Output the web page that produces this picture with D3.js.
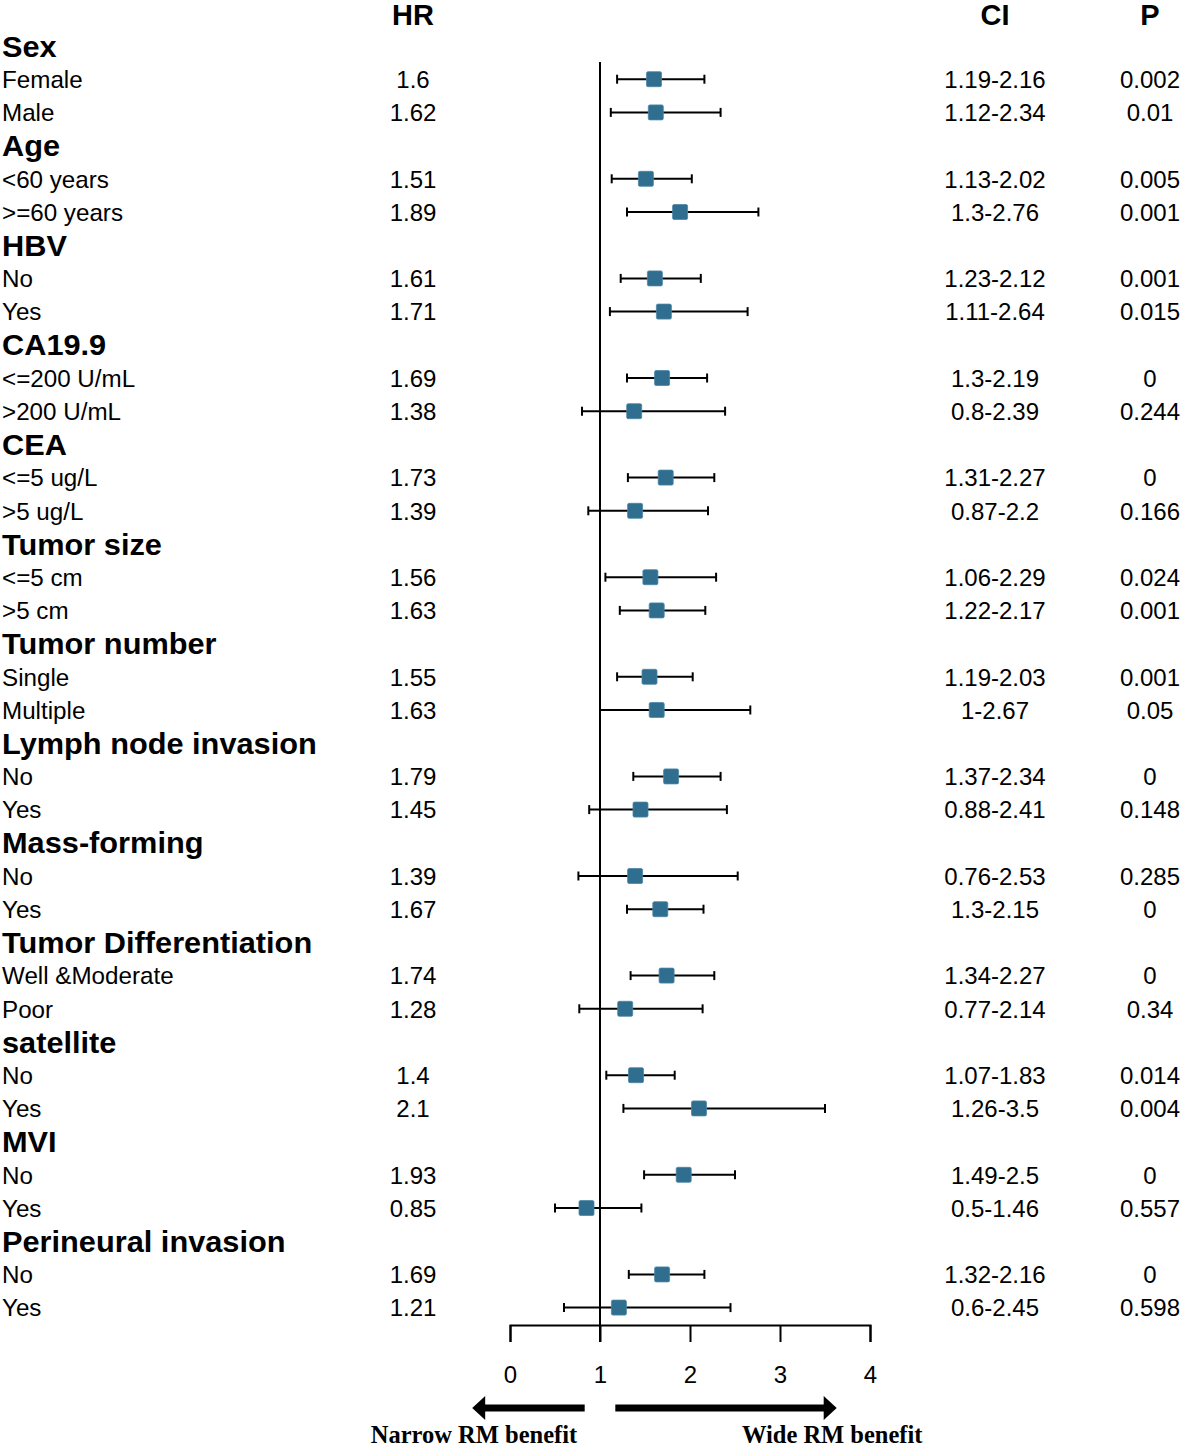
<!DOCTYPE html>
<html>
<head>
<meta charset="utf-8">
<script src="https://cdn.jsdelivr.net/npm/d3@7"></script>
<style>
  html, body { margin: 0; padding: 0; background: #fff; }
  svg { display: block; }
</style>
</head>
<body>
<svg id="chart" width="1181" height="1450"></svg>
<script>
// ---------- DATA ----------
const groupNames = ["Sex", "Age", "HBV", "CA19.9", "CEA", "Tumor size", "Tumor number",
  "Lymph node invasion", "Mass-forming", "Tumor Differentiation", "satellite", "MVI", "Perineural invasion"];
const subgroupLabels = [
  ["Female", "Male"], ["<60 years", ">=60 years"], ["No", "Yes"],
  ["<=200 U/mL", ">200 U/mL"], ["<=5 ug/L", ">5 ug/L"], ["<=5 cm", ">5 cm"],
  ["Single", "Multiple"], ["No", "Yes"], ["No", "Yes"], ["Well &Moderate", "Poor"],
  ["No", "Yes"], ["No", "Yes"], ["No", "Yes"]
];
const hrValues = [1.6, 1.62, 1.51, 1.89, 1.61, 1.71, 1.69, 1.38, 1.73, 1.39, 1.56, 1.63,
  1.55, 1.63, 1.79, 1.45, 1.39, 1.67, 1.74, 1.28, 1.4, 2.1, 1.93, 0.85, 1.69, 1.21];
const ciLower = [1.19, 1.12, 1.13, 1.3, 1.23, 1.11, 1.3, 0.8, 1.31, 0.87, 1.06, 1.22,
  1.19, 1, 1.37, 0.88, 0.76, 1.3, 1.34, 0.77, 1.07, 1.26, 1.49, 0.5, 1.32, 0.6];
const ciUpper = [2.16, 2.34, 2.02, 2.76, 2.12, 2.64, 2.19, 2.39, 2.27, 2.2, 2.29, 2.17,
  2.03, 2.67, 2.34, 2.41, 2.53, 2.15, 2.27, 2.14, 1.83, 3.5, 2.5, 1.46, 2.16, 2.45];
const pValues = [0.002, 0.01, 0.005, 0.001, 0.001, 0.015, 0, 0.244, 0, 0.166, 0.024, 0.001,
  0.001, 0.05, 0, 0.148, 0.285, 0, 0, 0.34, 0.014, 0.004, 0, 0.557, 0, 0.598];
const axisTicks = [0, 1, 2, 3, 4];
const columnHeaders = ["HR", "CI", "P"];
const directionLabels = ["Narrow RM benefit", "Wide RM benefit"];

// ---------- BUILD ROWS ----------
const rows = [];
let k = 0;
groupNames.forEach((g, gi) => {
  rows.push({ type: "header", label: g });
  subgroupLabels[gi].forEach(lbl => {
    rows.push({ type: "item", label: lbl, hr: hrValues[k], lo: ciLower[k], hi: ciUpper[k], p: pValues[k] });
    k++;
  });
});

// ---------- LAYOUT ----------
const svg = d3.select("#chart");
const FONT = "Arial, 'Liberation Sans', Helvetica, sans-serif";
const x = d3.scaleLinear().domain([0, 4]).range([510, 870]);
const y = d3.scaleLinear().domain([0, rows.length - 1]).range([46, 1307.6]);
const colHR = 413, colCI = 995, colP = 1150;
const markerColor = "#2f6e8e";

// column headers
svg.selectAll("text.colhead").data(columnHeaders).join("text")
  .attr("class", "colhead")
  .attr("x", (d, i) => [colHR, colCI, colP][i])
  .attr("y", 24.5)
  .attr("text-anchor", "middle")
  .attr("font-family", FONT).attr("font-weight", "bold").attr("font-size", 29)
  .attr("fill", "#000")
  .text(d => d);

// row labels
svg.selectAll("text.rowlabel").data(rows).join("text")
  .attr("class", "rowlabel")
  .attr("transform", (d, i) => d.type === "header"
    ? `translate(2,${y(i) + 10.5}) scale(1.06,1)`
    : `translate(2,${y(i) + 8.7})`)
  .attr("font-family", FONT)
  .attr("font-weight", d => d.type === "header" ? "bold" : "normal")
  .attr("font-size", d => d.type === "header" ? 29 : 24.2)
  .attr("fill", "#000")
  .text(d => d.label);

const items = rows.map((r, i) => Object.assign({ idx: i }, r)).filter(r => r.type === "item");

// HR / CI / P columns
const textCol = (cls, cx, fn) => svg.selectAll("text." + cls).data(items).join("text")
  .attr("class", cls)
  .attr("x", cx)
  .attr("y", d => y(d.idx) + 8.7)
  .attr("text-anchor", "middle")
  .attr("font-family", FONT).attr("font-size", 24).attr("fill", "#000")
  .text(fn);
textCol("hrtxt", colHR, d => String(d.hr));
textCol("citxt", colCI, d => String(d.lo) + "-" + String(d.hi));
textCol("ptxt", colP, d => String(d.p));

// reference line at HR = 1
svg.append("line")
  .attr("x1", x(1)).attr("x2", x(1))
  .attr("y1", 62).attr("y2", 1342)
  .attr("stroke", "#000").attr("stroke-width", 2);

// CI whiskers
const ci = svg.append("g");
ci.selectAll("line.whisk").data(items).join("line")
  .attr("class", "whisk")
  .attr("x1", d => x(d.lo)).attr("x2", d => x(d.hi))
  .attr("y1", d => y(d.idx)).attr("y2", d => y(d.idx))
  .attr("stroke", "#000").attr("stroke-width", 2);
ci.selectAll("line.capL").data(items).join("line")
  .attr("class", "capL")
  .attr("x1", d => x(d.lo)).attr("x2", d => x(d.lo))
  .attr("y1", d => y(d.idx) - 4.5).attr("y2", d => y(d.idx) + 4.5)
  .attr("stroke", "#000").attr("stroke-width", 2);
ci.selectAll("line.capR").data(items).join("line")
  .attr("class", "capR")
  .attr("x1", d => x(d.hi)).attr("x2", d => x(d.hi))
  .attr("y1", d => y(d.idx) - 4.5).attr("y2", d => y(d.idx) + 4.5)
  .attr("stroke", "#000").attr("stroke-width", 2);

// markers
const ms = 15;
svg.selectAll("rect.mark").data(items).join("rect")
  .attr("class", "mark")
  .attr("x", d => x(d.hr) - ms / 2).attr("y", d => y(d.idx) - ms / 2)
  .attr("width", ms).attr("height", ms)
  .attr("rx", 1.5)
  .attr("fill", markerColor)
  .attr("stroke", "#4d87a6").attr("stroke-width", 0.8);

// axis
const axisG = svg.append("g")
  .attr("transform", "translate(0,1325)")
  .call(d3.axisBottom(x).tickValues(axisTicks).tickFormat(d3.format("d"))
    .tickSize(17).tickSizeOuter(17).tickPadding(24));
axisG.select(".domain").attr("stroke", "#000").attr("stroke-width", 2);
axisG.selectAll(".tick line").attr("stroke", "#000").attr("stroke-width", 2);
axisG.selectAll(".tick text").attr("font-family", FONT).attr("font-size", 24).attr("fill", "#000");

// direction arrows
const arrowY = 1408;
const drawArrow = (xStart, xTip) => {
  const dir = Math.sign(xTip - xStart);
  const headLen = 13;
  svg.append("line")
    .attr("x1", xStart).attr("x2", xTip - dir * headLen + dir * 1)
    .attr("y1", arrowY).attr("y2", arrowY)
    .attr("stroke", "#000").attr("stroke-width", 7);
  svg.append("path")
    .attr("d", `M${xTip},${arrowY} L${xTip - dir * headLen},${arrowY - 12} L${xTip - dir * headLen},${arrowY + 12} Z`)
    .attr("fill", "#000");
};
drawArrow(x(0.83), x(-0.42));
drawArrow(x(1.17), x(3.63));

svg.selectAll("text.dirlabel").data(directionLabels).join("text")
  .attr("class", "dirlabel")
  .attr("x", (d, i) => i === 0 ? x(-0.4) : x(3.58))
  .attr("y", 1443)
  .attr("text-anchor", "middle")
  .attr("font-family", "'Times New Roman', 'Liberation Serif', serif")
  .attr("font-weight", "bold").attr("font-size", 24.5)
  .attr("fill", "#000")
  .text(d => d);
</script>
</body>
</html>
